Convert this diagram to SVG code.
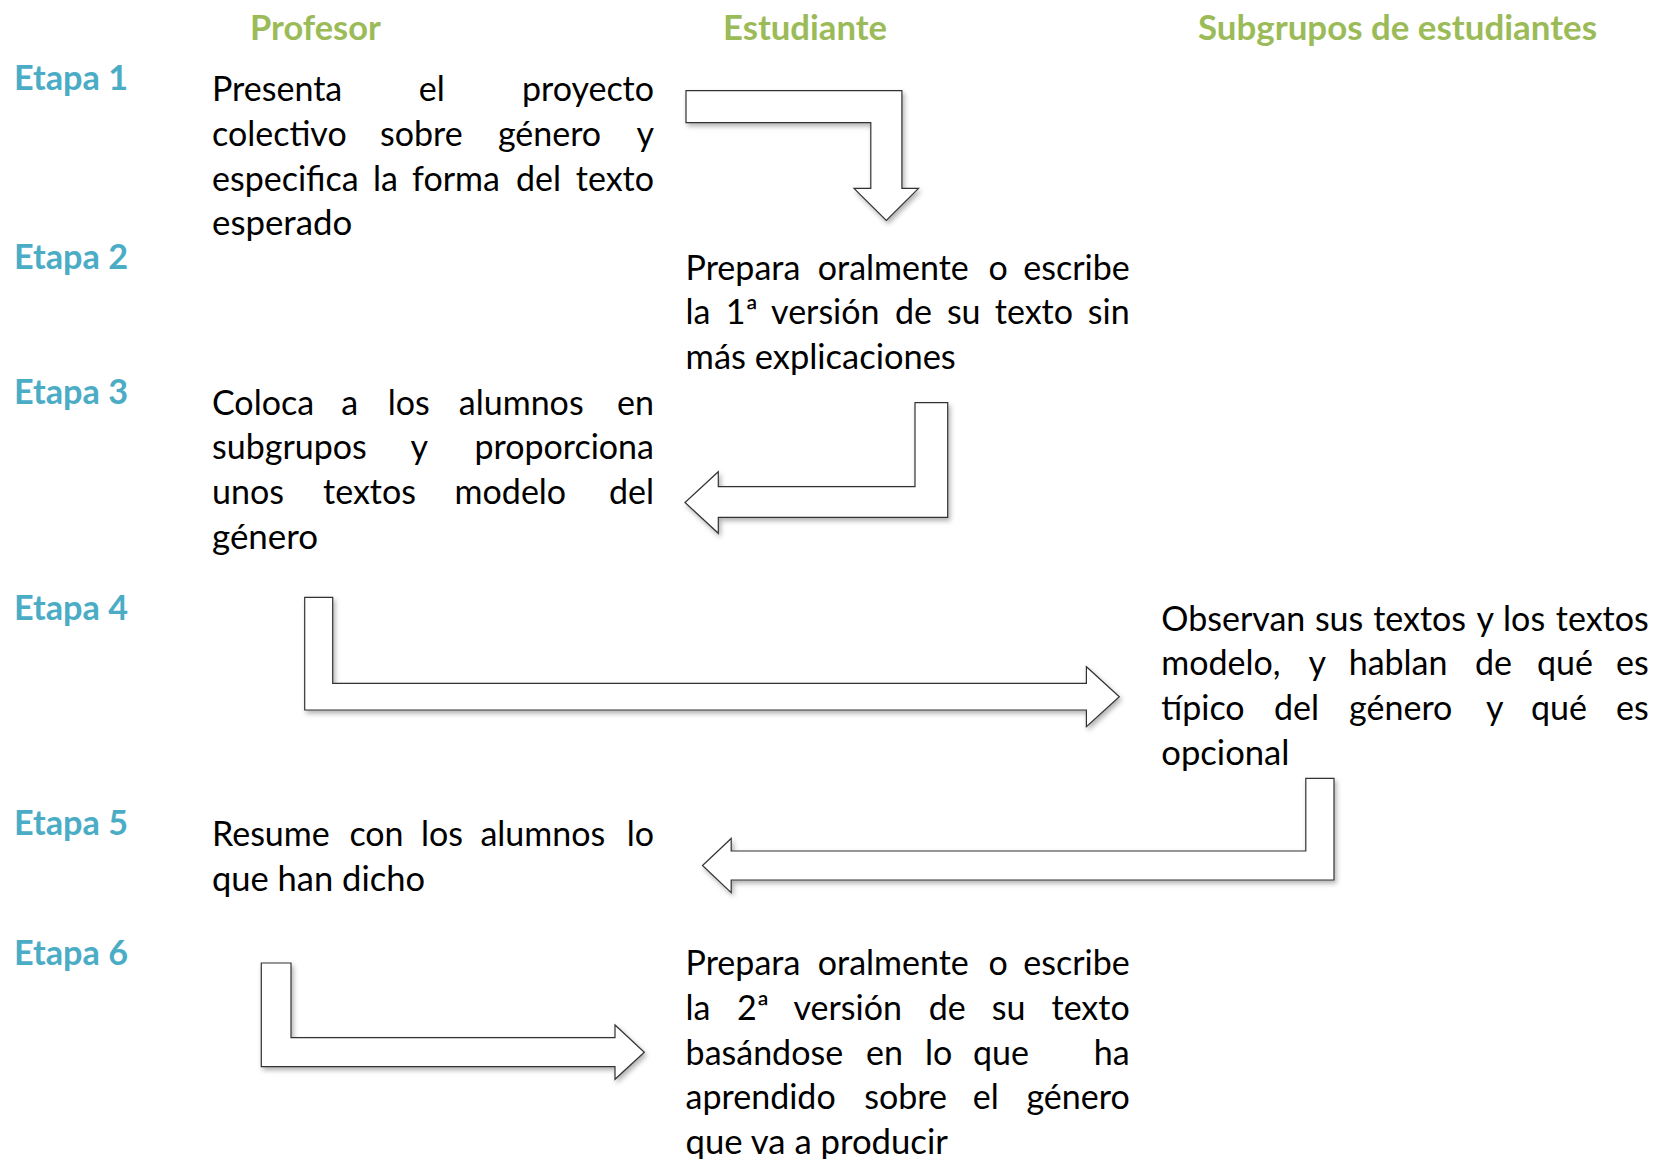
<svg xmlns="http://www.w3.org/2000/svg" width="1654" height="1159" viewBox="0 0 1654 1159">
<style>
.hdr{font-family:Lato,"Liberation Sans",sans-serif;font-weight:700;font-size:34px;fill:#9BBB59}
.stage{font-family:Lato,"Liberation Sans",sans-serif;font-weight:700;font-size:34px;fill:#4BACC6}
.body{font-family:Lato,"Liberation Sans",sans-serif;font-size:34px;fill:#000}
.arrow{fill:#fff;stroke:#333;stroke-width:1.2;stroke-linejoin:miter;filter:url(#sh)}
</style>
<defs>
<filter id="sh" x="-10%" y="-20%" width="120%" height="150%">
<feDropShadow dx="2" dy="3" stdDeviation="2.5" flood-color="#000" flood-opacity="0.3"/>
</filter>
</defs>
<rect width="1654" height="1159" fill="#fff"/>

<g id="headers">
<text class="hdr" x="250" y="39.5" textLength="130.8" lengthAdjust="spacingAndGlyphs">Profesor</text>
<text class="hdr" x="723" y="39.5" textLength="164" lengthAdjust="spacingAndGlyphs">Estudiante</text>
<text class="hdr" x="1198" y="39.5" textLength="399" lengthAdjust="spacingAndGlyphs">Subgrupos de estudiantes</text>
</g>

<g id="stages">
<text class="stage" x="14" y="90" textLength="114" lengthAdjust="spacingAndGlyphs">Etapa 1</text>
<text class="stage" x="14" y="268.5" textLength="114" lengthAdjust="spacingAndGlyphs">Etapa 2</text>
<text class="stage" x="14" y="403.5" textLength="114" lengthAdjust="spacingAndGlyphs">Etapa 3</text>
<text class="stage" x="14" y="619.5" textLength="114" lengthAdjust="spacingAndGlyphs">Etapa 4</text>
<text class="stage" x="14" y="834.5" textLength="114" lengthAdjust="spacingAndGlyphs">Etapa 5</text>
<text class="stage" x="14" y="964.5" textLength="114" lengthAdjust="spacingAndGlyphs">Etapa 6</text>
</g>

<g id="node1">
<text class="body" y="101"><tspan x="212">Presenta</tspan><tspan x="418.7">el</tspan><tspan x="654" text-anchor="end">proyecto</tspan></text>
<text class="body" y="145.8"><tspan x="212">colectivo</tspan><tspan x="380">sobre</tspan><tspan x="497.9">género</tspan><tspan x="654" text-anchor="end">y</tspan></text>
<text class="body" y="190.6"><tspan x="212">especifica</tspan><tspan x="373">la</tspan><tspan x="412.1">forma</tspan><tspan x="516">del</tspan><tspan x="654" text-anchor="end">texto</tspan></text>
<text class="body" x="212" y="235.4" textLength="140.3" lengthAdjust="spacingAndGlyphs">esperado</text>
</g>

<g id="node2">
<text class="body" y="279.5"><tspan x="685.6">Prepara</tspan><tspan x="817.8">oralmente</tspan><tspan x="988.5">o</tspan><tspan x="1129.7" text-anchor="end">escribe</tspan></text>
<text class="body" y="324.3"><tspan x="685.6">la</tspan><tspan x="725.8">1ª</tspan><tspan x="771.1">versión</tspan><tspan x="895">de</tspan><tspan x="946.9">su</tspan><tspan x="994.8">texto</tspan><tspan x="1129.7" text-anchor="end">sin</tspan></text>
<text class="body" x="685.6" y="369.1" textLength="270.2" lengthAdjust="spacingAndGlyphs">más explicaciones</text>
</g>

<g id="node3">
<text class="body" y="414.5"><tspan x="212">Coloca</tspan><tspan x="341.3">a</tspan><tspan x="387.7">los</tspan><tspan x="458.8">alumnos</tspan><tspan x="654" text-anchor="end">en</tspan></text>
<text class="body" y="459.3"><tspan x="212">subgrupos</tspan><tspan x="410.6">y</tspan><tspan x="654" text-anchor="end">proporciona</tspan></text>
<text class="body" y="504.1"><tspan x="212">unos</tspan><tspan x="323.1">textos</tspan><tspan x="454.6">modelo</tspan><tspan x="654" text-anchor="end">del</tspan></text>
<text class="body" x="212" y="548.9" textLength="106.1" lengthAdjust="spacingAndGlyphs">género</text>
</g>

<g id="node4">
<text class="body" y="630.5"><tspan x="1161.3">Observan</tspan><tspan x="1314.9">sus</tspan><tspan x="1373.2">textos</tspan><tspan x="1476.4">y</tspan><tspan x="1503.1">los</tspan><tspan x="1648.7" text-anchor="end">textos</tspan></text>
<text class="body" y="675.3"><tspan x="1161.3">modelo,</tspan><tspan x="1308.6">y</tspan><tspan x="1348.7">hablan</tspan><tspan x="1475">de</tspan><tspan x="1537">qué</tspan><tspan x="1648.7" text-anchor="end">es</tspan></text>
<text class="body" y="720.1"><tspan x="1161.3">típico</tspan><tspan x="1274">del</tspan><tspan x="1349.1">género</tspan><tspan x="1486">y</tspan><tspan x="1531">qué</tspan><tspan x="1648.7" text-anchor="end">es</tspan></text>
<text class="body" x="1161.3" y="764.9" textLength="128.2" lengthAdjust="spacingAndGlyphs">opcional</text>
</g>

<g id="node5">
<text class="body" y="846"><tspan x="212">Resume</tspan><tspan x="349.4">con</tspan><tspan x="421">los</tspan><tspan x="480.4">alumnos</tspan><tspan x="654" text-anchor="end">lo</tspan></text>
<text class="body" x="212" y="890.8" textLength="213" lengthAdjust="spacingAndGlyphs">que han dicho</text>
</g>

<g id="node6">
<text class="body" y="975"><tspan x="685.6">Prepara</tspan><tspan x="817.8">oralmente</tspan><tspan x="988.5">o</tspan><tspan x="1129.7" text-anchor="end">escribe</tspan></text>
<text class="body" y="1019.8"><tspan x="685.6">la</tspan><tspan x="737">2ª</tspan><tspan x="793.5">versión</tspan><tspan x="928.7">de</tspan><tspan x="991.8">su</tspan><tspan x="1129.7" text-anchor="end">texto</tspan></text>
<text class="body" y="1064.6"><tspan x="685.6">basándose</tspan><tspan x="866">en</tspan><tspan x="925">lo</tspan><tspan x="973">que</tspan><tspan x="1129.7" text-anchor="end">ha</tspan></text>
<text class="body" y="1109.4"><tspan x="685.6">aprendido</tspan><tspan x="864.2">sobre</tspan><tspan x="972.8">el</tspan><tspan x="1129.7" text-anchor="end">género</tspan></text>
<text class="body" x="685.6" y="1154.2" textLength="262.3" lengthAdjust="spacingAndGlyphs">que va a producir</text>
</g>

<g id="connectors">
<path class="arrow" d="M686,90.7 H901.9 V188.3 H918.5 L886.3,220.5 L854,188.3 H870.8 V122.7 H686 Z"/>
<path class="arrow" d="M915,402.7 H947.7 V517.3 H718.3 V533.3 L685,502.5 L718.3,471.7 V486.7 H915 Z"/>
<path class="arrow" d="M304.7,597.3 H332.7 V683.3 H1086.4 V666.7 L1119.3,696.7 L1086.4,726.7 V710 H304.7 Z"/>
<path class="arrow" d="M1305.8,778.3 H1334 V880 H731.2 V892.7 L702.5,865.5 L731.2,838.5 V851 H1305.8 Z"/>
<path class="arrow" d="M261.3,963 H291 V1037.7 H615 V1025 L644.3,1052.2 L615,1079.3 V1066.7 H261.3 Z"/>
</g>
</svg>
